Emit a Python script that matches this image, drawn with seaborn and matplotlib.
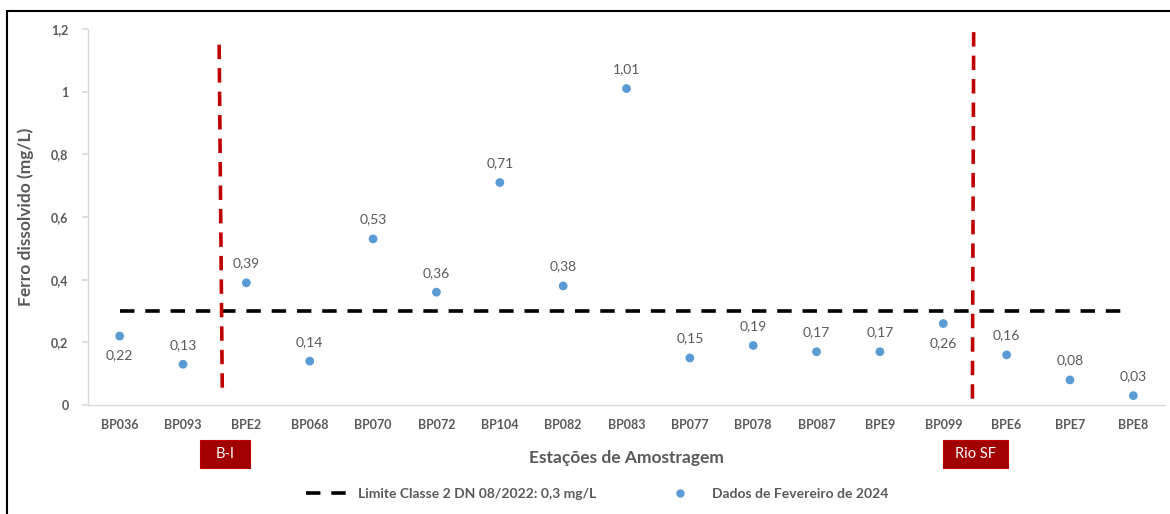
import matplotlib

matplotlib.use("Agg")
import matplotlib.pyplot as plt
import matplotlib.patches as mpatches
from matplotlib.lines import Line2D
import pandas as pd
import seaborn as sns

# data
stations = ["BP036", "BP093", "BPE2", "BP068", "BP070", "BP072", "BP104", "BP082", "BP083",
            "BP077", "BP078", "BP087", "BPE9", "BP099", "BPE6", "BPE7", "BPE8"]
ferro = [0.22, 0.13, 0.39, 0.14, 0.53, 0.36, 0.71, 0.38, 1.01,
         0.15, 0.19, 0.17, 0.17, 0.26, 0.16, 0.08, 0.03]
label_below = ["BP036", "BP099"]
limite = 0.3

sns.set_theme(style="white")
plt.rcParams["font.family"] = ["Lato", "DejaVu Sans"]

GRAY = "#595959"
BLUE = "#5B9BD5"
DARKRED = "#A00000"

df = pd.DataFrame({"estacao": stations, "ferro": ferro, "x": range(len(stations))})

fig = plt.figure(figsize=(11.7, 5.14), dpi=100)
ax = fig.add_axes([88 / 1170, 1 - 405 / 514, (1165 - 88) / 1170, (405 - 29) / 514])

sns.scatterplot(data=df, x="x", y="ferro", ax=ax, color=BLUE, s=40, edgecolor="none",
                zorder=4, legend=False)

ax.plot([0, 15.88], [limite, limite], color="black", lw=2.6, ls=(0, (4, 3)), zorder=3)
ax.plot([1.57, 1.62], [1.15, 0.04], color="#C00000", lw=2.6, ls=(0, (4, 2.5)), zorder=3)
ax.plot([13.48, 13.46], [1.19, 0.01], color="#C00000", lw=2.6, ls=(0, (4, 2.5)), zorder=3)

for _, r in df.iterrows():
    txt = f"{r.ferro:.2f}".replace(".", ",")
    dy = -14 if r.estacao in label_below else 14
    ax.annotate(txt, (r.x, r.ferro), xytext=(0, dy), textcoords="offset points",
                ha="center", va="center", fontsize=10, color=GRAY)

ax.set_xlim(-0.5, len(stations) - 0.5)
ax.set_ylim(0, 1.2)
ax.set_xticks(range(len(stations)))
ax.set_xticklabels(stations, fontsize=9, fontweight="bold", color=GRAY)
ax.set_xticks([i + 0.5 for i in range(-1, len(stations))], minor=True)
ax.tick_params(axis="x", which="major", length=0, pad=10)
ax.tick_params(axis="x", which="minor", length=5, color="#D9D9D9", direction="out")
yt = [0, 0.2, 0.4, 0.6, 0.8, 1.0, 1.2]
ax.set_yticks(yt)
ax.set_yticklabels([f"{v:g}".replace(".", ",") for v in yt], fontsize=9, fontweight="bold", color=GRAY)
ax.tick_params(axis="y", length=4, color="#D9D9D9", direction="out", pad=10)
ax.tick_params(bottom=True, left=True)

for side in ["top", "right"]:
    ax.spines[side].set_visible(False)
for side in ["left", "bottom"]:
    ax.spines[side].set_color("#D9D9D9")
    ax.spines[side].set_linewidth(1)

ax.set_xlabel("Estações de Amostragem", fontsize=12.5, fontweight="bold", color=GRAY, labelpad=14)
ax.set_ylabel("Ferro dissolvido (mg/L)", fontsize=12.5, fontweight="bold", color=GRAY, labelpad=12)

# red boxes
for x0, w, txt in [(200, 50, "B-I"), (943, 65, "Rio SF")]:
    fig.patches.append(mpatches.Rectangle((x0 / 1170, 1 - 468 / 514), w / 1170, 28 / 514,
                                          transform=fig.transFigure, facecolor=DARKRED,
                                          edgecolor="#C00000", lw=0.8))
    fig.text((x0 + w / 2) / 1170, 1 - 454 / 514, txt, color="white", fontsize=10.5,
             ha="center", va="center")

# legend
handles = [Line2D([0], [0], color="black", lw=2.6, ls=(0, (4, 3))),
           Line2D([0], [0], marker="o", color=BLUE, lw=0, markersize=5)]
labels = ["Limite Classe 2 DN 08/2022: 0,3 mg/L", "Dados de Fevereiro de 2024"]
leg = fig.legend(handles, labels, loc="center", bbox_to_anchor=(597 / 1170, 1 - 494 / 514),
                 ncol=2, frameon=False, handlelength=3, columnspacing=4.5,
                 prop={"size": 10, "weight": "bold"})
for t in leg.get_texts():
    t.set_color(GRAY)

# outer border
fig.patches.append(mpatches.Rectangle((7 / 1170, -0.01), 1.2, 1 - 11 / 514 + 0.01,
                                      transform=fig.transFigure, fill=False,
                                      edgecolor="black", lw=1.5))

fig.savefig("out.png", dpi=100)
